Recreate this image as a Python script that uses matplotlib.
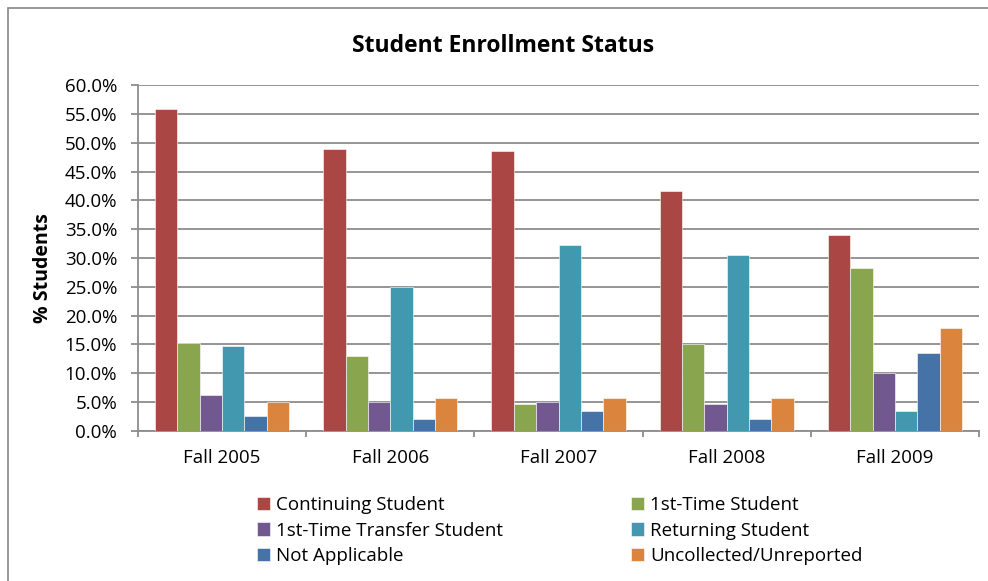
import matplotlib
matplotlib.use("Agg")
import matplotlib.pyplot as plt
import numpy as np
from matplotlib.patches import Rectangle
from matplotlib.ticker import FuncFormatter, MultipleLocator

plt.rcParams['font.family'] = ['Open Sans', 'DejaVu Sans']

categories = ["Fall 2005", "Fall 2006", "Fall 2007", "Fall 2008", "Fall 2009"]
series_names = ["Continuing Student", "1st-Time Student", "1st-Time Transfer Student",
                "Returning Student", "Not Applicable", "Uncollected/Unreported"]
continuing = [55.8, 48.9, 48.6, 41.6, 34.0]
first_time = [15.2, 13.0, 4.7, 15.1, 28.3]
transfer = [6.2, 5.0, 5.0, 4.7, 10.1]
returning = [14.8, 25.0, 32.3, 30.5, 3.5]
not_applicable = [2.6, 2.0, 3.4, 2.1, 13.5]
uncollected = [4.9, 5.7, 5.7, 5.6, 17.8]
series_values = [continuing, first_time, transfer, returning, not_applicable, uncollected]
colors = ["#AA4643", "#89A54E", "#71588F", "#4198AF", "#4572A7", "#DB843D"]

fig = plt.figure(figsize=(9.88, 5.81), dpi=100)
fig.patch.set_facecolor("white")
# outer chart border
fig.add_artist(Rectangle((8/988, -0.05), 1.0, 1 - 8/581 + 0.05, transform=fig.transFigure,
                         fill=False, edgecolor="#888888", lw=1.2))

ax = fig.add_axes([138/988, 1 - 430.7/581, (979 - 138)/988, (430.7 - 85.3)/581])

x = np.arange(len(categories))
bw = 0.133
n = len(series_values)
for i, (vals, c, name) in enumerate(zip(series_values, colors, series_names)):
    offs = (i - (n - 1) / 2) * bw
    ax.bar(x + offs, vals, width=bw, color=c, edgecolor="white", linewidth=0.4,
           label=name, zorder=3)

ax.set_xlim(-0.5, len(categories) - 0.5)
ax.set_ylim(0, 60)
ax.yaxis.set_major_locator(MultipleLocator(5))
ax.yaxis.set_major_formatter(FuncFormatter(lambda v, p: f"{v:.1f}%"))
ax.grid(axis='y', color="#8c8c8c", lw=1.3, zorder=0)
ax.set_axisbelow(True)
for s in ["top", "right"]:
    ax.spines[s].set_visible(False)
ax.spines["left"].set_color("#8c8c8c")
ax.spines["left"].set_linewidth(1.3)
ax.spines["bottom"].set_color("#8c8c8c")
ax.spines["bottom"].set_linewidth(1.3)

ax.set_xticks(x)
ax.set_xticklabels(categories, fontsize=13.5)
ax.tick_params(axis='x', length=0, pad=13)
ax.set_xticks(np.arange(-0.5, len(categories) + 0.5, 1), minor=True)
ax.tick_params(axis='x', which='minor', length=4.5, color="#8c8c8c", width=1.3)
ax.tick_params(axis='y', length=5, color="#8c8c8c", width=1.3, labelsize=13.5, pad=10)

fig.text(43/988, 1 - 268/581, "% Students", rotation=90, ha='center', va='center',
         fontsize=14, fontweight='bold')
fig.text(503/988, 1 - 46/581, "Student Enrollment Status", ha='center', va='center',
         fontsize=16.5, fontweight='bold')

handles, labels = ax.get_legend_handles_labels()
order = [0, 2, 4, 1, 3, 5]
leg = fig.legend([handles[k] for k in order], [labels[k] for k in order],
                 ncol=2, loc='center left', bbox_to_anchor=(257/988, 1 - 530.5/581),
                 frameon=False, fontsize=13.5, handlelength=0.7, handleheight=0.7,
                 handletextpad=0.3, columnspacing=6.85, labelspacing=0.39,
                 borderaxespad=0, borderpad=0)

fig.savefig("out.png", dpi=100)
